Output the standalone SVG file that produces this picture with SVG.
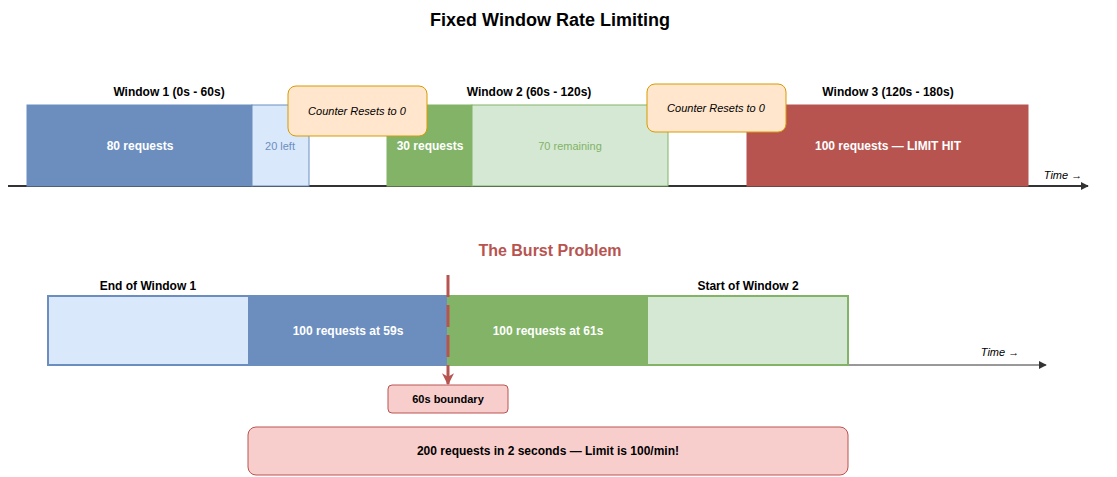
<svg xmlns="http://www.w3.org/2000/svg" width="1117" height="477" viewBox="0 0 1117 477">
<style>
text{font-family:"Liberation Sans",Arial,sans-serif;text-anchor:middle;dominant-baseline:central}
.b{font-weight:bold}
.w{fill:#fff;font-weight:bold;font-size:12px}
.h{font-weight:bold;font-size:12px;fill:#000}
.i{font-style:italic;font-size:11px}
</style>
<defs>
<marker id="ar" viewBox="0 0 10 10" refX="9" refY="5" markerWidth="8" markerHeight="8" orient="auto" markerUnits="userSpaceOnUse"><path d="M0,0L10,5L0,10z" fill="#333"/></marker>
<marker id="ar2" viewBox="0 0 10 10" refX="9" refY="5" markerWidth="12" markerHeight="12" orient="auto" markerUnits="userSpaceOnUse"><path d="M0,0L10,5L0,10L3,5z" fill="#b85450"/></marker>
</defs>
<rect width="1117" height="477" fill="#fff"/>
<text x="550" y="20" class="b" font-size="18">Fixed Window Rate Limiting</text>
<g id="connectors">
<line x1="8" y1="186" x2="1088" y2="186" stroke="#333" stroke-width="2" marker-end="url(#ar)"/>
<line x1="848" y1="365" x2="1046" y2="365" stroke="#333" stroke-width="1" marker-end="url(#ar)"/>
</g>
<g id="w1"><text x="169" y="92" class="h">Window 1 (0s - 60s)</text>
<rect x="27" y="105" width="225" height="81" fill="#6c8ebf" stroke="#6c8ebf"/><text x="140" y="146" class="w">80 requests</text>
<rect x="252" y="105" width="57" height="81" fill="#dae8fc" stroke="#6c8ebf"/><text x="280" y="146" font-size="11" fill="#6c8ebf">20 left</text></g>
<g id="w2"><text x="529" y="92" class="h">Window 2 (60s - 120s)</text>
<rect x="387" y="105" width="85" height="81" fill="#82b366" stroke="#82b366"/><text x="430" y="146" class="w">30 requests</text>
<rect x="472" y="105" width="196" height="81" fill="#d5e8d4" stroke="#82b366"/><text x="570" y="146" font-size="11" fill="#82b366">70 remaining</text></g>
<g id="w3"><text x="888" y="92" class="h">Window 3 (120s - 180s)</text>
<rect x="747" y="105" width="281" height="81" fill="#b85450" stroke="#b85450"/><text x="888" y="146" class="w">100 requests — LIMIT HIT</text></g>
<g id="c1"><rect x="288" y="86" width="139" height="50" rx="8" fill="#ffe6cc" stroke="#d79b00"/><text x="357" y="111" class="i">Counter Resets to 0</text></g>
<g id="c2"><rect x="647" y="84" width="139" height="48" rx="8" fill="#ffe6cc" stroke="#d79b00"/><text x="716" y="108" class="i">Counter Resets to 0</text></g>
<text x="1063" y="175" class="i" font-size="12">Time →</text>
<text x="550" y="250" class="b" font-size="16" fill="#b85450">The Burst Problem</text>
<g id="b1"><text x="148" y="286" class="h">End of Window 1</text>
<rect x="48" y="296" width="200" height="69" fill="#dae8fc"/>
<rect x="248" y="296" width="200" height="69" fill="#6c8ebf"/><text x="348" y="331" class="w" font-size="11">100 requests at 59s</text>
<rect x="48" y="296" width="400" height="69" fill="none" stroke="#6c8ebf" stroke-width="2"/></g>
<g id="b2"><text x="748" y="286" class="h">Start of Window 2</text>
<rect x="448" y="296" width="200" height="69" fill="#82b366"/><text x="548" y="331" class="w" font-size="11">100 requests at 61s</text>
<rect x="648" y="296" width="200" height="69" fill="#d5e8d4"/>
<rect x="448" y="296" width="400" height="69" fill="none" stroke="#82b366" stroke-width="2"/></g>
<line x1="448" y1="275" x2="448" y2="384" stroke="#b85450" stroke-width="3" stroke-dasharray="22,8" marker-end="url(#ar2)"/>
<text x="1000" y="352" class="i" font-size="12">Time →</text>
<g id="bnd"><rect x="388" y="385" width="120" height="28" rx="4" fill="#f8cecc" stroke="#b85450"/><text x="448" y="399" class="b" font-size="11">60s boundary</text></g>
<g id="sum"><rect x="248" y="427" width="600" height="48" rx="8" fill="#f8cecc" stroke="#b85450"/><text x="548" y="451" class="b" font-size="12">200 requests in 2 seconds — Limit is 100/min!</text></g>
</svg>
